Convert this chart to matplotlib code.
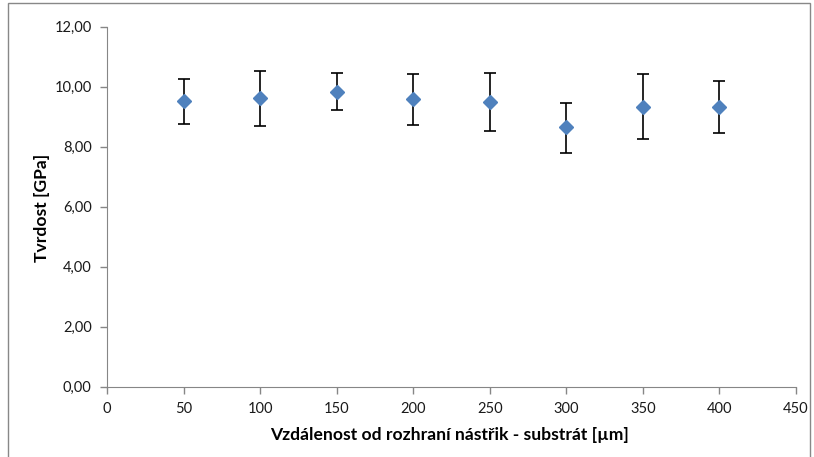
import matplotlib
matplotlib.use("Agg")
import matplotlib.pyplot as plt
from matplotlib.patches import Rectangle
from matplotlib.ticker import FuncFormatter, MultipleLocator

x = [50, 100, 150, 200, 250, 300, 350, 400]
hardness = [9.53, 9.61, 9.81, 9.58, 9.49, 8.66, 9.32, 9.32]
upper = [10.26, 10.53, 10.47, 10.42, 10.47, 9.46, 10.41, 10.18]
lower = [8.77, 8.69, 9.22, 8.73, 8.53, 7.80, 8.26, 8.45]

xlabel = "Vzdálenost od rozhraní nástřik - substrát [µm]"
ylabel = "Tvrdost [GPa]"

err_low = [h - l for h, l in zip(hardness, lower)]
err_high = [u - h for u, h in zip(upper, hardness)]

plt.rcParams['font.family'] = ['Lato', 'DejaVu Sans']

fig = plt.figure(figsize=(8.14, 4.57), dpi=100)
fig.patches.append(Rectangle((8/814, -0.01), (810-8)/814, 1 - 3/457 + 0.01,
                             transform=fig.transFigure, fill=False,
                             edgecolor='#888888', linewidth=1.0))

ax = fig.add_axes([107/814, (457-386.7)/457, 689/814, 360/457])
ax.errorbar(x, hardness, yerr=[err_low, err_high], fmt='D', color='#4F81BD',
            markersize=7.5, ecolor='black', elinewidth=1.2, capsize=4,
            capthick=1.2, markeredgecolor='#4F81BD', zorder=3)

ax.set_xlim(0, 450)
ax.set_ylim(0, 12)
ax.xaxis.set_major_locator(MultipleLocator(50))
ax.yaxis.set_major_locator(MultipleLocator(2))
ax.yaxis.set_major_formatter(FuncFormatter(lambda v, p: f"{v:.2f}".replace('.', ',')))

for s in ['top', 'right']:
    ax.spines[s].set_visible(False)
for s in ['left', 'bottom']:
    ax.spines[s].set_color('#868686')
ax.tick_params(axis='both', colors='#868686', length=5, width=1, labelsize=10.5,
               labelcolor='#1a1a1a', direction='out')
ax.tick_params(axis='x', pad=6)
ax.tick_params(axis='y', pad=6)

xl = ax.set_xlabel(xlabel, fontsize=12.6, fontweight='bold')
yl = ax.set_ylabel(ylabel, fontsize=12.6, fontweight='bold')
xl.set_verticalalignment('center')
yl.set_verticalalignment('center')
ax.xaxis.set_label_coords(0.5 + (450 - 451.5) / 689, (386.7 - 435) / 360)
ax.yaxis.set_label_coords((42 - 107) / 689, (386.7 - 207.5) / 360)

fig.savefig("out.png", dpi=100)
